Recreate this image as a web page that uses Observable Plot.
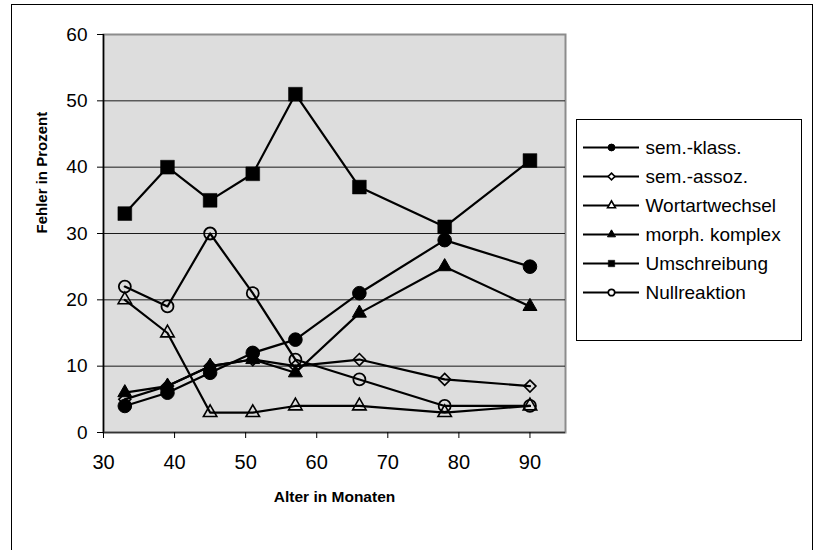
<!DOCTYPE html>
<html>
<head>
<meta charset="utf-8">
<script src="https://cdn.jsdelivr.net/npm/d3@7"></script>
<script src="https://cdn.jsdelivr.net/npm/@observablehq/plot@0.6"></script>
<style>
  html, body { margin: 0; padding: 0; background: #fff; overflow: hidden; }
  body { width: 814px; height: 550px; position: relative; font-family: "Liberation Sans", Arial, sans-serif; }
  #outer { position: absolute; left: 11px; top: 4px; width: 802px; height: 600px; border: 1px solid #000; box-sizing: border-box; }
  #chart { position: absolute; left: 0; top: 0; }
  #legend { position: absolute; left: 576px; top: 119px; width: 226px; height: 222px; border: 1px solid #000; box-sizing: border-box; background: #fff; }
  #legend svg { display: block; }
</style>
</head>
<body>
<div id="outer"></div>
<div id="chart"></div>
<div id="legend"></div>
<script>
// ---- data ----
const months = [33, 39, 45, 51, 57, 66, 78, 90];
const seriesNames = ["sem.-klass.", "sem.-assoz.", "Wortartwechsel", "morph. komplex", "Umschreibung", "Nullreaktion"];
const semKlass     = [4, 6, 9, 12, 14, 21, 29, 25];
const semAssoz     = [5, 7, 10, 11, 10, 11, 8, 7];
const wortart      = [20, 15, 3, 3, 4, 4, 3, 4];
const morphKomplex = [6, 7, 10, 11, 9, 18, 25, 19];
const umschreibung = [33, 40, 35, 39, 51, 37, 31, 41];
const nullreaktion = [22, 19, 30, 21, 11, 8, 4, 4];
const xTicks = [30, 40, 50, 60, 70, 80, 90];
const yTicks = [0, 10, 20, 30, 40, 50, 60];
const gridValues = [10, 20, 30, 40, 50];
const xTitle = "Alter in Monaten";
const yTitle = "Fehler in Prozent";

// marker styles per series
const markerStyle = [
  {symbol: "circle",   fill: "#000",  r: 6.8, strokeWidth: 1},
  {symbol: "diamond2", fill: "none",  r: 5.4, strokeWidth: 1.6},
  {symbol: "triangle", fill: "none",  r: 5.0, strokeWidth: 1.6},
  {symbol: "triangle", fill: "#000",  r: 5.2, strokeWidth: 1},
  {symbol: "square",   fill: "#000",  r: 7.8, strokeWidth: 0.5},
  {symbol: "circle",   fill: "none",  r: 6.0, strokeWidth: 1.8}
];

const allValues = [semKlass, semAssoz, wortart, morphKomplex, umschreibung, nullreaktion];
const table = seriesNames.flatMap((name, i) =>
  allValues[i].map((v, j) => ({series: name, month: months[j], value: v}))
);

const font = '"Liberation Sans", Arial, sans-serif';

const seriesMarks = seriesNames.flatMap((name, i) => {
  const rows = table.filter(d => d.series === name);
  const m = markerStyle[i];
  return [
    Plot.line(rows, {x: "month", y: "value", stroke: "#000", strokeWidth: 2.2}),
    Plot.dot(rows, {x: "month", y: "value", symbol: () => m.symbol, r: m.r, fill: m.fill, stroke: "#000", strokeWidth: m.strokeWidth})
  ];
});

const chart = Plot.plot({
  width: 814,
  height: 550,
  marginLeft: 103,
  marginRight: 249,
  marginTop: 34,
  marginBottom: 118,
  style: {fontFamily: font, background: "transparent", color: "#000", overflow: "visible"},
  x: {domain: [30, 95]},
  y: {domain: [0, 60]},
  symbol: {type: "identity"},
  marks: [
    Plot.frame({fill: "#dddddd", stroke: "#8c8c8c", strokeWidth: 2}),
    Plot.ruleY(gridValues, {stroke: "#1a1a1a", strokeWidth: 1}),
    Plot.ruleX([30], {stroke: "#000", strokeWidth: 1.5}),
    Plot.ruleY([0], {stroke: "#333", strokeWidth: 1.5}),
    Plot.axisY({ticks: yTicks, tickSize: 6, tickPadding: 10, label: null, fontSize: 19, tickFormat: d => String(d)}),
    Plot.axisX({ticks: xTicks, tickSize: 6, tickPadding: 16, label: null, fontSize: 20, tickFormat: d => String(d)}),
    ...seriesMarks,
    Plot.text([xTitle], {frameAnchor: "bottom", dy: 65, text: d => d, fontSize: 15.5, fontWeight: "bold", lineAnchor: "middle"}),
    Plot.text([yTitle], {frameAnchor: "left", dx: -61, text: d => d, fontSize: 15, fontWeight: "bold", rotate: -90, lineAnchor: "middle"})
  ]
});
document.getElementById("chart").appendChild(chart);

// ---- legend, drawn with Plot ----
const legendRows = seriesNames.map((name, i) => ({name, ...markerStyle[i]}));
const legend = Plot.plot({
  width: 224,
  height: 220,
  margin: 0,
  style: {fontFamily: font, background: "transparent", color: "#000", overflow: "visible"},
  x: {type: "identity", axis: null},
  y: {type: "point", domain: seriesNames, range: [12, 187], axis: null},
  symbol: {type: "identity"},
  marks: [
    Plot.ruleY(legendRows, {y: "name", x1: 6, x2: 62, stroke: "#000", strokeWidth: 2.2}),
    Plot.dot(legendRows, {x: 34, y: "name", symbol: "symbol", r: d => d.r * 0.85, fill: d => d.fill === "none" ? "#fff" : d.fill, stroke: "#000", strokeWidth: d => d.strokeWidth}),
    Plot.text(legendRows, {x: 68, y: "name", text: "name", textAnchor: "start", fontSize: 19, lineAnchor: "middle"})
  ]
});
document.getElementById("legend").appendChild(legend);
</script>
</body>
</html>
